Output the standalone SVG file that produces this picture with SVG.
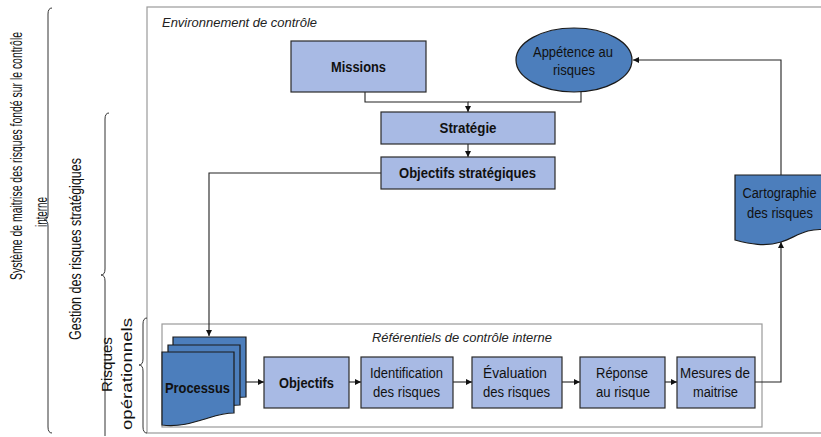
<svg xmlns="http://www.w3.org/2000/svg" width="821" height="437" viewBox="0 0 821 437">
<style>
text{font-family:"Liberation Sans Narrow","Arial Narrow","Liberation Sans",Arial,sans-serif;font-size:14px;fill:#111;}
.b{font-weight:bold;}
.i{font-style:italic;font-size:13.5px;fill:#222;}
.big{font-size:16px;}
.lt{fill:#A8BAE4;stroke:#2a2a2a;stroke-width:1.2;}
.dk{fill:#4C7EBC;stroke:#1a1a1a;stroke-width:1.2;}
.frame{fill:none;stroke:#9a9a9a;stroke-width:1.2;}
.br{fill:none;stroke:#333;stroke-width:1;}
.c{fill:none;stroke:#222;stroke-width:1.1;}
</style>
<defs>
<marker id="ar" viewBox="0 0 10 10" refX="10" refY="5" markerWidth="6" markerHeight="6" orient="auto" markerUnits="userSpaceOnUse">
<path d="M0,0 L10,5 L0,10 Z" fill="#111"/>
</marker>
</defs>
<rect width="821" height="437" fill="#fff"/>

<g id="frames">
<rect class="frame" x="147" y="7" width="690" height="426"/>
<rect class="frame" x="162" y="324" width="600" height="103"/>
<text class="i" x="162" y="27" textLength="155" lengthAdjust="spacingAndGlyphs">Environnement de contrôle</text>
<text class="i" x="372" y="342" textLength="180" lengthAdjust="spacingAndGlyphs">Référentiels de contrôle interne</text>
</g>

<g id="braces">
<path class="br" d="M52,8 Q48,8 48,14 V214 Q48,220 44,220 Q48,220 48,226 V427 Q48,433 52,433"/>
<path class="br" d="M109,113 Q105,113 105,119 V269 Q105,275 101,275 Q105,275 105,281 V436"/>
<path class="br" d="M147,318 Q143,318 143,324 V359 Q143,365 139,365 Q143,365 143,371 V427 Q143,433 147,433"/>
</g>

<g id="left-labels">
<text class="big" transform="translate(22,280) rotate(-90)" textLength="248" lengthAdjust="spacingAndGlyphs">Système de maitrise des risques fondé sur le contrôle</text>
<text class="big" transform="translate(47,227) rotate(-90)" textLength="30" lengthAdjust="spacingAndGlyphs">interne</text>
<text class="big" transform="translate(81,340) rotate(-90)" textLength="182" lengthAdjust="spacingAndGlyphs">Gestion des risques stratégiques</text>
<text transform="translate(112,392) rotate(-90)" textLength="55" lengthAdjust="spacingAndGlyphs">Risques</text>
<text transform="translate(132,430) rotate(-90)" textLength="112" lengthAdjust="spacingAndGlyphs">opérationnels</text>
</g>

<g id="connectors">
<polyline class="c" points="365,92 365,102 468,102 468,112" marker-end="url(#ar)"/>
<polyline class="c" points="581,92 581,102 468,102"/>
<line class="c" x1="468" y1="144" x2="468" y2="157" marker-end="url(#ar)"/>
<polyline class="c" points="381,173 209,173 209,336" marker-end="url(#ar)"/>
<line class="c" x1="246" y1="382" x2="264" y2="382" marker-end="url(#ar)"/>
<line class="c" x1="349" y1="382" x2="361" y2="382" marker-end="url(#ar)"/>
<line class="c" x1="453" y1="382" x2="472" y2="382" marker-end="url(#ar)"/>
<line class="c" x1="562" y1="382" x2="580" y2="382" marker-end="url(#ar)"/>
<line class="c" x1="665" y1="382" x2="677" y2="382" marker-end="url(#ar)"/>
<polyline class="c" points="755,382 781,382 781,242" marker-end="url(#ar)"/>
<polyline class="c" points="781,175 781,60 633,60" marker-end="url(#ar)"/>
</g>

<g id="missions">
<rect class="lt" x="291" y="41" width="135" height="51"/>
<text class="b" x="358.5" y="72" text-anchor="middle" textLength="55" lengthAdjust="spacingAndGlyphs">Missions</text>
</g>

<g id="appetence">
<ellipse class="dk" cx="574" cy="60" rx="58" ry="32"/>
<text x="573" y="57" text-anchor="middle" textLength="80" lengthAdjust="spacingAndGlyphs">Appétence au</text>
<text x="574" y="75" text-anchor="middle" textLength="42" lengthAdjust="spacingAndGlyphs">risques</text>
</g>

<g id="strategie">
<rect class="lt" x="381" y="112" width="174" height="32"/>
<text class="b" x="468" y="133" text-anchor="middle" textLength="57" lengthAdjust="spacingAndGlyphs">Stratégie</text>
</g>

<g id="objectifs-strategiques">
<rect class="lt" x="381" y="157" width="174" height="32"/>
<text class="b" x="467.5" y="178" text-anchor="middle" textLength="137" lengthAdjust="spacingAndGlyphs">Objectifs stratégiques</text>
</g>

<g id="cartographie">
<path class="dk" d="M735,175 H827 V230 C805,227 795,238 781,242 C765,247 750,244 735,240 Z"/>
<text x="779.5" y="198" text-anchor="middle" textLength="74" lengthAdjust="spacingAndGlyphs">Cartographie</text>
<text x="780" y="218" text-anchor="middle" textLength="66" lengthAdjust="spacingAndGlyphs">des risques</text>
</g>

<g id="processus">
<path class="dk" d="M173,337 H246 V397 C232,397 222,402 210,405 C197,409 187,411 173,409 Z"/>
<path class="dk" d="M168,345 H240 V405 C226,405 216,410 204,413 C191,417 181,419 168,417 Z"/>
<path class="dk" d="M162,352 H234 V413 C220,413 210,418 198,421 C185,425 175,427 162,425 Z"/>
<text class="b" x="197.5" y="393" text-anchor="middle" textLength="65" lengthAdjust="spacingAndGlyphs">Processus</text>
</g>

<g id="objectifs">
<rect class="lt" x="264" y="357" width="85" height="51"/>
<text class="b" x="306.5" y="388" text-anchor="middle" textLength="55" lengthAdjust="spacingAndGlyphs">Objectifs</text>
</g>

<g id="identification">
<rect class="lt" x="361" y="357" width="92" height="51"/>
<text x="406.5" y="378" text-anchor="middle" textLength="73" lengthAdjust="spacingAndGlyphs">Identification</text>
<text x="406.5" y="397" text-anchor="middle" textLength="67" lengthAdjust="spacingAndGlyphs">des risques</text>
</g>

<g id="evaluation">
<rect class="lt" x="472" y="357" width="90" height="51"/>
<text x="515" y="378" text-anchor="middle" textLength="64" lengthAdjust="spacingAndGlyphs">Évaluation</text>
<text x="516.5" y="397" text-anchor="middle" textLength="67" lengthAdjust="spacingAndGlyphs">des risques</text>
</g>

<g id="reponse">
<rect class="lt" x="580" y="357" width="85" height="51"/>
<text x="622" y="378" text-anchor="middle" textLength="52" lengthAdjust="spacingAndGlyphs">Réponse</text>
<text x="623" y="397" text-anchor="middle" textLength="54" lengthAdjust="spacingAndGlyphs">au risque</text>
</g>

<g id="mesures">
<rect class="lt" x="677" y="357" width="78" height="51"/>
<text x="715" y="378" text-anchor="middle" textLength="70" lengthAdjust="spacingAndGlyphs">Mesures de</text>
<text x="715.5" y="397" text-anchor="middle" textLength="45" lengthAdjust="spacingAndGlyphs">maitrise</text>
</g>
</svg>
